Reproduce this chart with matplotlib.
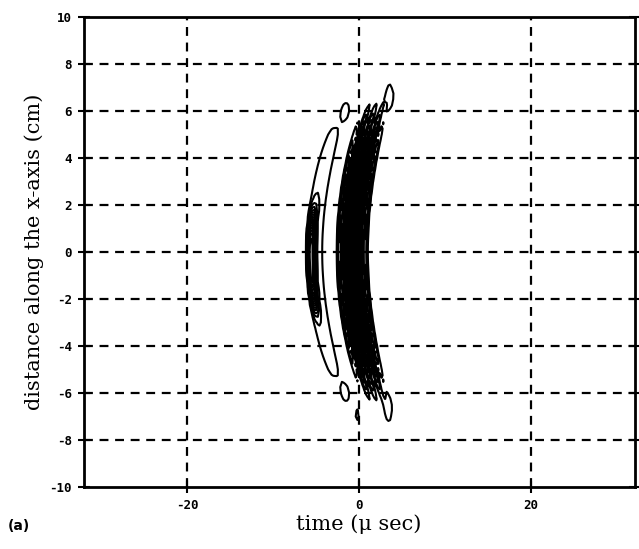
import numpy as np
import matplotlib
matplotlib.use("Agg")
import matplotlib.pyplot as plt

# Axis ranges and tick values
x_range = (-32, 32)
y_range = (-10, 10)
x_ticks = [-20, 0, 20]
y_ticks = [-10, -8, -6, -4, -2, 0, 2, 4, 6, 8, 10]
y_grid = [-8, -6, -4, -2, 0, 2, 4, 6, 8]

# Leading (weak) wavefronts: centre time at y=0 (usec), curvature
# (usec/cm^2), half-width (usec), amplitude, y-centre and y half-extent (cm)
lead_t0 = [-5.15, -5.6]
lead_curv = [0.085, 0.085]
lead_width = [1.0, 0.4]
lead_amp = [1.4, 9.0]
lead_yc = [0.0, -0.35]
lead_yh = [6.1, 1.9]

# Main wave packet with internal oscillation
main_t0 = -0.8
main_curv = 0.07
main_halfwidth = 1.5
main_period = 0.8
main_amp = 11.0
main_yc = 0.0
main_yh = 5.0

# Small isolated patches near the ends of the front:
# time, y, amplitude, half-width in time, half-width in y
blob_t = [-1.5, -1.5, -0.2, 3.6, 3.4]
blob_y = [5.95, -5.95, -6.9, 6.6, -6.7]
blob_amp = [0.75, 0.75, 0.95, 1.1, 1.1]
blob_wt = [0.6, 0.6, 0.3, 0.6, 0.6]
blob_wy = [0.45, 0.45, 0.4, 0.75, 0.75]

levels = [0.8, 1.4, 2.0, 2.6, 3.2, 3.8, 4.4, 5.0, 5.6, 6.2, 6.8, 7.4,
          8.0, 8.6, 9.2, 9.8, 10.4]

t = np.arange(-32, 32.01, 0.2)
y = np.arange(-10, 10.01, 0.25)
T, Y = np.meshgrid(t, y)
F = np.zeros_like(T)
for t0, c, w, a, yc, yh in zip(lead_t0, lead_curv, lead_width,
                                lead_amp, lead_yc, lead_yh):
    tc = t0 + c * Y ** 2
    F += a * np.exp(-((T - tc) / w) ** 4) * np.exp(-((Y - yc) / yh) ** 4)

tc = main_t0 + main_curv * Y ** 2
F += (main_amp * np.exp(-((T - tc) / main_halfwidth) ** 4)
      * np.exp(-((Y - main_yc) / main_yh) ** 4)
      * (0.6 + 0.4 * np.cos(2 * np.pi * (T - tc) / main_period)))

for bt, by, ba, bwt, bwy in zip(blob_t, blob_y, blob_amp, blob_wt, blob_wy):
    F += ba * np.exp(-((T - bt) / bwt) ** 2 - ((Y - by) / bwy) ** 2)

fig = plt.figure(figsize=(6.39, 5.49), dpi=100)
ax = fig.add_axes([0.131, 0.113, 0.862, 0.856])

ax.contour(T, Y, F, levels=levels, colors="black", linewidths=1.5,
           linestyles="solid")

for gx in x_ticks:
    ax.axvline(gx, color="black", lw=1.6, ls=(0, (4, 3)), zorder=0)
for gy in y_grid:
    ax.axhline(gy, color="black", lw=1.6, ls=(0, (4, 3)), zorder=0)

ax.set_xlim(*x_range)
ax.set_ylim(*y_range)
ax.set_xticks(x_ticks)
ax.set_yticks(y_ticks)
mono = dict(family="DejaVu Sans Mono", weight="bold", size=9)
ax.set_xticklabels([str(v) for v in x_ticks], **mono)
ax.set_yticklabels([str(v) for v in y_ticks], **mono)
ax.tick_params(axis="both", direction="inout", length=9, width=1.5,
               right=True, top=False, pad=4)
for s in ax.spines.values():
    s.set_linewidth(2.0)

ax.set_ylabel("distance along the x-axis (cm)", family="DejaVu Serif",
              size=15, labelpad=4)
ax.set_xlabel("time (\u03bc sec)", family="DejaVu Serif", size=15, labelpad=2)
fig.text(0.012, 0.035, "(a)", family="DejaVu Sans", weight="bold", size=10)

fig.savefig("out.png", dpi=100)
